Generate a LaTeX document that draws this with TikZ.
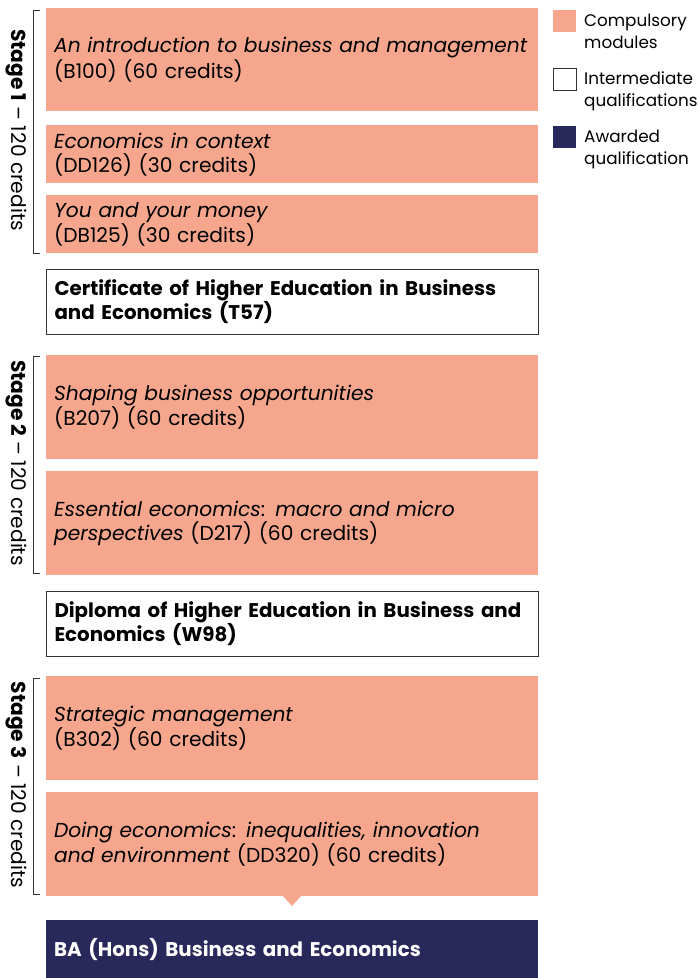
\documentclass[tikz,border=0pt]{standalone}
\usepackage{fontspec}
\setmainfont{Poppins}
\definecolor{salmon}{HTML}{F5A68D}
\definecolor{navy}{HTML}{29285A}
\definecolor{edge}{HTML}{333333}
\begin{document}
\begin{tikzpicture}[x=1pt,y=-1pt,
  box/.style={anchor=north west, minimum width=492pt, text width=476pt, inner xsep=8pt, inner ysep=0pt, align=left, font=\fontsize{20.2}{24}\selectfont},
  modbox/.style={box, fill=salmon},
  qualbox/.style={box, fill=white, draw=edge, line width=1pt, font=\fontsize{19.8}{24}\selectfont\bfseries},
  awardbox/.style={box, fill=navy, text=white, font=\fontsize{19.8}{24}\selectfont\bfseries},
  stagelbl/.style={rotate=-90, font=\fontsize{20.2}{24}\selectfont},
  brack/.style={draw=edge, line width=0.9pt},
  legsw/.style={anchor=north west, minimum width=23pt, minimum height=22pt, inner sep=0pt},
  legtxt/.style={anchor=north west, align=left, inner sep=0pt, font=\fontsize{16.8}{22}\selectfont}
]
\useasboundingbox (0,0) rectangle (698,978);

% Stage 1
\node[modbox, minimum height=103pt] (m1) at (46,8) {\textit{An introduction to business and management}\\(B100) (60 credits)};
\node[modbox, minimum height=58pt] (m2) at (46,125) {\textit{Economics in context}\\(DD126) (30 credits)};
\node[modbox, minimum height=58pt] (m3) at (46,195) {\textit{You and your money}\\(DB125) (30 credits)};
\node[qualbox, minimum height=65pt] (q1) at (46,269) {Certificate of Higher Education in Business\\and Economics (T57)};

% Stage 2
\node[modbox, minimum height=104pt] (m4) at (46,355) {\textit{Shaping business opportunities}\\(B207) (60 credits)};
\node[modbox, minimum height=104pt] (m5) at (46,471) {\textit{Essential economics}: \textit{macro and micro}\\\textit{perspectives} (D217) (60 credits)};
\node[qualbox, minimum height=65pt] (q2) at (46,591) {Diploma of Higher Education in Business and\\Economics (W98)};

% Stage 3
\node[modbox, minimum height=104pt] (m6) at (46,676) {\textit{Strategic management}\\(B302) (60 credits)};
\node[modbox, minimum height=104pt] (m7) at (46,792) {\textit{Doing economics}: \textit{inequalities, innovation}\\\textit{and environment} (DD320) (60 credits)};
\fill[salmon] (282,895) -- (302,895) -- (292,906) -- cycle;
\node[awardbox, minimum height=58pt] (aw) at (46,920) {BA (Hons) Business and Economics};

% Stage brackets
\draw[brack] (40,10) -- (33,10) -- (33,253) -- (40,253);
\node[stagelbl] (s1) at (16,130) {\textbf{Stage 1} – 120 credits};
\draw[brack] (40,356) -- (33,356) -- (33,573) -- (40,573);
\node[stagelbl] (s2) at (16,463) {\textbf{Stage 2} – 120 credits};
\draw[brack] (40,678) -- (33,678) -- (33,894) -- (40,894);
\node[stagelbl] (s3) at (16,785) {\textbf{Stage 3} – 120 credits};

% Legend
\node[legsw, fill=salmon] (l1) at (553,10) {};
\node[legtxt] (t1) at (584,14) {Compulsory\\modules};
\node[legsw, fill=white, draw=edge, line width=0.8pt] (l2) at (553,68) {};
\node[legtxt] (t2) at (584,72) {Intermediate\\qualifications};
\node[legsw, fill=navy] (l3) at (553,126) {};
\node[legtxt] (t3) at (584,130) {Awarded\\qualification};
\end{tikzpicture}
\end{document}
